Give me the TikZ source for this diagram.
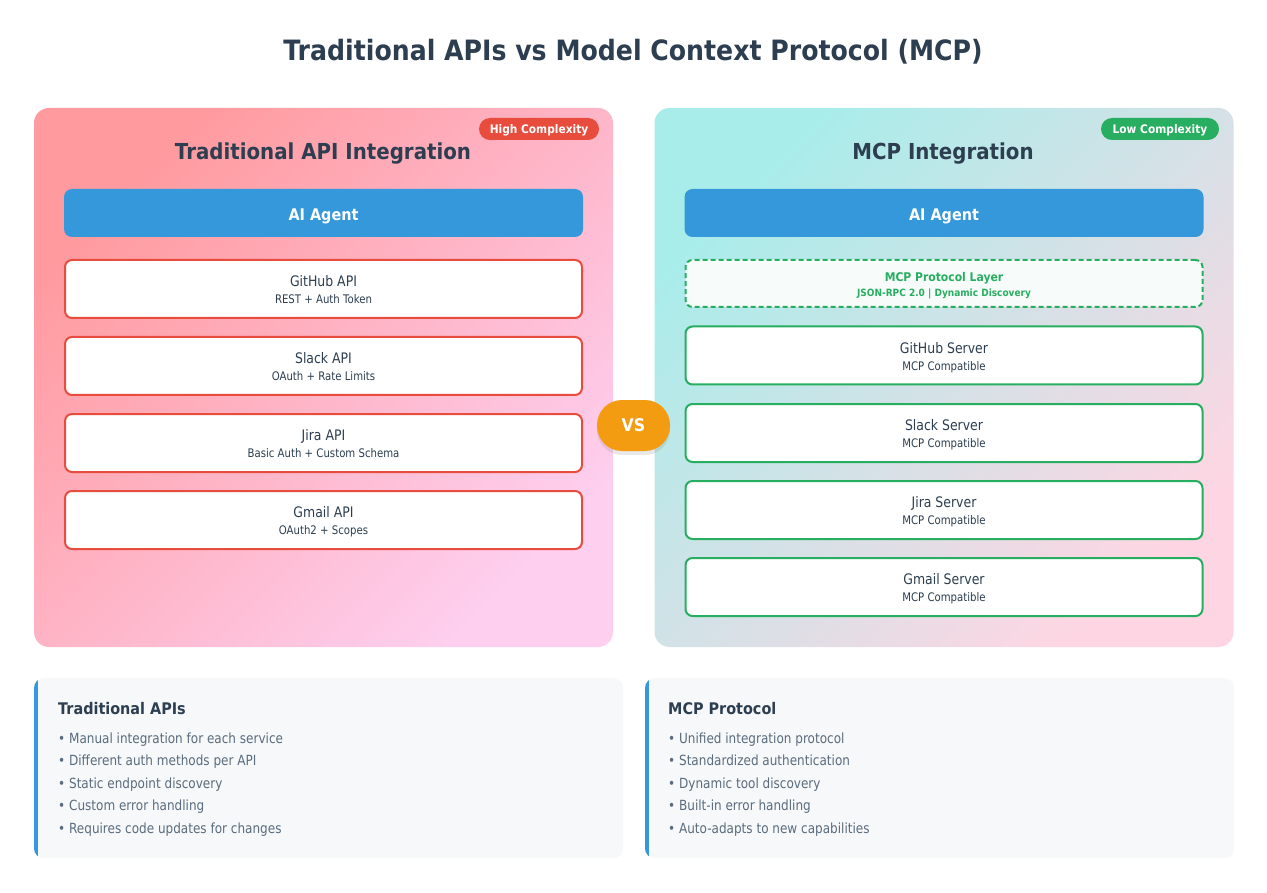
\documentclass[tikz,border=0pt]{standalone}
\usepackage{fontspec}
\setmainfont{DejaVu Sans}[FakeStretch=0.86]
\newfontfamily\hb{DejaVu Sans}[FakeStretch=0.9]
\usetikzlibrary{shadows}
\definecolor{dark}{HTML}{2C3E50}
\definecolor{redc}{HTML}{E74C3C}
\definecolor{greenc}{HTML}{27AE60}
\definecolor{bluec}{HTML}{3498DB}
\definecolor{orangec}{HTML}{F39C12}
\definecolor{bulletc}{HTML}{5A6C7D}
\definecolor{notebg}{HTML}{F7F8FA}
\definecolor{protobg}{HTML}{F7FBFA}
\definecolor{lA}{HTML}{FF9A9E}
\definecolor{lB}{HTML}{FECFEF}
\definecolor{rA}{HTML}{A8EDEA}
\definecolor{rB}{HTML}{FED6E3}
\newcommand{\fsz}[1]{\fontsize{#1}{#1}\selectfont}
\tikzset{
  txt/.style={inner sep=0pt, outer sep=0pt, anchor=center, text height=0.76em, text depth=0.24em},
  panel/.style={rounded corners=15pt, minimum width=579pt, minimum height=539pt, inner sep=0pt},
  badge/.style={rounded corners=11pt, minimum height=22pt, inner sep=0pt, text=white, text depth=0pt, font=\hb\bfseries\fsz{11.8}},
  agent/.style={rounded corners=8pt, fill=bluec, minimum width=519pt, minimum height=48pt, inner sep=0pt},
  agenttext/.style={inner sep=0pt, text=white, text depth=0pt, font=\hb\bfseries\fsz{16}},
  apibox/.style={rounded corners=7pt, fill=white, draw=redc, line width=2pt, minimum width=517pt, minimum height=58pt, inner sep=0pt},
  srvbox/.style={apibox, draw=greenc},
  boxtitle/.style={txt, text=dark, font=\fsz{14.5}},
  boxsub/.style={txt, text=dark, font=\fsz{11.8}},
  bullet/.style={anchor=west, inner sep=0pt, text height=0.76em, text depth=0.24em, text=bulletc, font=\fsz{14}},
}
\begin{document}
\begin{tikzpicture}[x=1pt,y=-1pt]
\useasboundingbox (0,0) rectangle (1267,893);
\fill[white] (0,0) rectangle (1267,893);
% title
\node[txt, text=dark, font=\hb\bfseries\fsz{28}] (title) at (633,58) {Traditional APIs vs Model Context Protocol (MCP)};
% panels
\node[panel, left color=lA, right color=lB, shading angle=45] (lp) at (323.5,377.5) {};
\node[panel, left color=rA, right color=rB, shading angle=45] (rp) at (944,377.5) {};
% badges
\node[badge, fill=redc, minimum width=120pt] (hb) at (539,129) {High Complexity};
\node[badge, fill=greenc, minimum width=118pt] (lb) at (1160,129) {Low Complexity};
% panel headings
\node[txt, text=dark, font=\hb\bfseries\fsz{22}] (lh) at (323,157) {Traditional API Integration};
\node[txt, text=dark, font=\hb\bfseries\fsz{22}] (rh) at (943,157) {MCP Integration};
% agents
\node[agent] (la) at (323.5,213) {};
\node[agenttext] (lat) at (323.5,214.5) {AI Agent};
\node[agent] (ra) at (944,213) {};
\node[agenttext] (rat) at (944,214.5) {AI Agent};
% left api boxes
\foreach \y/\n/\a/\b in {289/gh/GitHub API/REST + Auth Token,
                         366/sl/Slack API/OAuth + Rate Limits,
                         443/ji/Jira API/Basic Auth + Custom Schema,
                         520/gm/Gmail API/OAuth2 + Scopes}{
  \node[apibox] (\n) at (323.5,\y) {};
  \node[boxtitle, yshift=5pt] (\n t) at (\n.center) {\a};
  \node[boxsub, yshift=-12pt] (\n s) at (\n.center) {\b};
}
% protocol layer
\node[rounded corners=7pt, fill=protobg, draw=greenc, line width=2pt, dash pattern=on 5pt off 3pt, minimum width=517pt, minimum height=47pt, inner sep=0pt] (pl) at (944,283.5) {};
\node[txt, text=greenc, font=\hb\bfseries\fsz{12}, yshift=5pt] (plt) at (pl.center) {MCP Protocol Layer};
\node[txt, text=greenc, font=\hb\bfseries\fsz{10}, yshift=-10pt] (pls) at (pl.center) {JSON-RPC 2.0 | Dynamic Discovery};
% servers
\foreach \y/\n/\a in {355.5/gsv/GitHub Server, 433/ssv/Slack Server, 510/jsv/Jira Server, 587/msv/Gmail Server}{
  \node[srvbox] (\n) at (944,\y) {};
  \node[boxtitle, yshift=5pt] (\n t) at (\n.center) {\a};
  \node[boxsub, yshift=-12pt] (\n s) at (\n.center) {MCP Compatible};
}
% VS
\node[rounded corners=25pt, fill=orangec, minimum width=73pt, minimum height=51pt, inner sep=0pt, text=white, text depth=0pt, font=\hb\bfseries\fsz{17.5},
      drop shadow={opacity=0.18, shadow xshift=0pt, shadow yshift=-4pt}] (vs) at (633.5,425.5) {VS};
% notes
\foreach \x/\n in {34/ln, 645/rn}{
  \node[rounded corners=10pt, fill=notebg, minimum width=589pt, minimum height=180pt, inner sep=0pt, anchor=north west] (\n) at (\x,678) {};
  \begin{scope}
    \clip[rounded corners=10pt] (\n.north west) rectangle (\n.south east);
    \fill[bluec] (\n.north west) rectangle ([xshift=4pt]\n.south west);
  \end{scope}
}
\node[anchor=west, inner sep=0pt, text=dark, font=\hb\bfseries\fsz{16}] (lnh) at (58,709) {Traditional APIs};
\node[bullet] (l1) at (58,741) {• Manual integration for each service};
\node[bullet] (l2) at (58,763) {• Different auth methods per API};
\node[bullet] (l3) at (58,786) {• Static endpoint discovery};
\node[bullet] (l4) at (58,808) {• Custom error handling};
\node[bullet] (l5) at (58,831) {• Requires code updates for changes};
\node[anchor=west, inner sep=0pt, text=dark, font=\hb\bfseries\fsz{16}] (rnh) at (668,709) {MCP Protocol};
\node[bullet] (r1) at (668,741) {• Unified integration protocol};
\node[bullet] (r2) at (668,763) {• Standardized authentication};
\node[bullet] (r3) at (668,786) {• Dynamic tool discovery};
\node[bullet] (r4) at (668,808) {• Built-in error handling};
\node[bullet] (r5) at (668,831) {• Auto-adapts to new capabilities};
\end{tikzpicture}
\end{document}
